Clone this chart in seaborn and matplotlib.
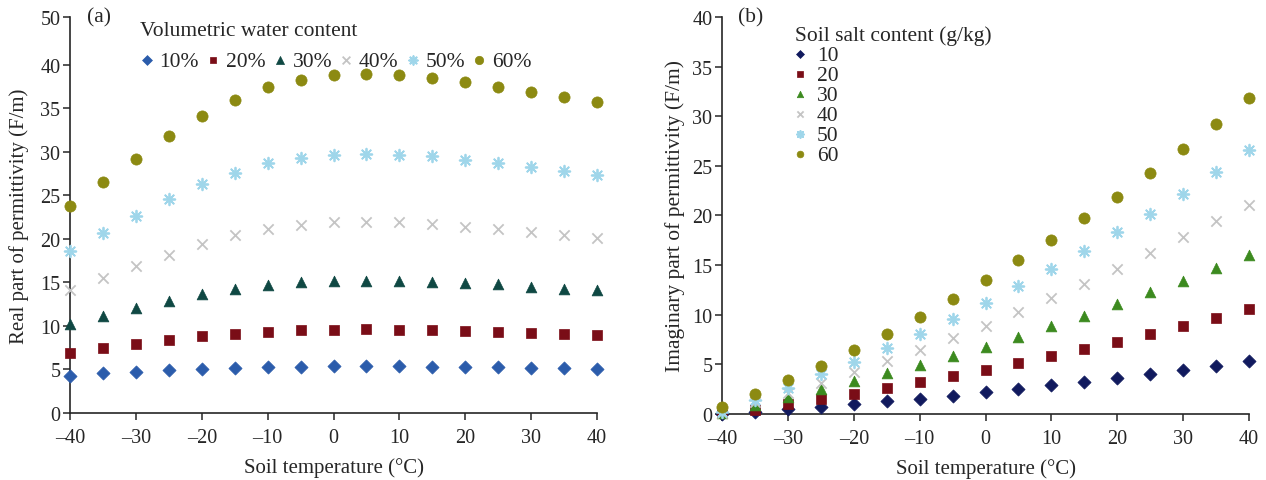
import numpy as np
import pandas as pd
import matplotlib
matplotlib.use("Agg")
import matplotlib.pyplot as plt
import seaborn as sns

# Dados (temperatura do solo em °C)
temperaturas = [-40, -35, -30, -25, -20, -15, -10, -5, 0, 5, 10, 15, 20, 25, 30, 35, 40]

# (a) parte real da permissividade, por umidade volumétrica
real_10 = [4.3, 4.55, 4.75, 4.9, 5.1, 5.2, 5.3, 5.3, 5.35, 5.35, 5.35, 5.3, 5.3, 5.25, 5.2, 5.15, 5.1]
real_20 = [6.9, 7.45, 7.9, 8.4, 8.8, 9.05, 9.3, 9.5, 9.55, 9.6, 9.55, 9.5, 9.4, 9.3, 9.2, 9.1, 9.0]
real_30 = [10.2, 11.1, 12.05, 12.9, 13.65, 14.3, 14.7, 15.0, 15.2, 15.2, 15.2, 15.0, 14.9, 14.8, 14.5, 14.3, 14.1]
real_40 = [14.1, 15.5, 16.9, 18.2, 19.4, 20.4, 21.1, 21.6, 21.9, 22.0, 21.9, 21.7, 21.4, 21.1, 20.8, 20.5, 20.1]
real_50 = [18.6, 20.65, 22.6, 24.6, 26.3, 27.6, 28.7, 29.3, 29.7, 29.8, 29.7, 29.5, 29.1, 28.7, 28.3, 27.8, 27.3]
real_60 = [23.8, 26.5, 29.2, 31.8, 34.1, 36.0, 37.4, 38.3, 38.8, 38.9, 38.8, 38.5, 38.0, 37.5, 36.9, 36.3, 35.7]
rotulos_umidade = ["10%", "20%", "30%", "40%", "50%", "60%"]

# (b) parte imaginária da permissividade, por teor de sal (g/kg)
imag_10 = [0.05, 0.2, 0.5, 0.7, 1.05, 1.3, 1.55, 1.85, 2.2, 2.5, 2.9, 3.2, 3.6, 4.0, 4.4, 4.85, 5.3]
imag_20 = [0.07, 0.45, 1.05, 1.55, 2.05, 2.65, 3.2, 3.8, 4.45, 5.1, 5.8, 6.55, 7.3, 8.05, 8.9, 9.7, 10.6]
imag_30 = [0.1, 0.9, 1.7, 2.5, 3.3, 4.1, 4.95, 5.85, 6.8, 7.8, 8.85, 9.9, 11.05, 12.25, 13.45, 14.75, 16.0]
imag_40 = [0.15, 1.2, 2.1, 3.15, 4.25, 5.3, 6.4, 7.65, 8.9, 10.25, 11.65, 13.1, 14.65, 16.2, 17.8, 19.4, 21.1]
imag_50 = [0.25, 1.45, 2.65, 4.0, 5.25, 6.7, 8.1, 9.6, 11.2, 12.9, 14.6, 16.4, 18.3, 20.2, 22.2, 24.4, 26.6]
imag_60 = [0.75, 2.0, 3.4, 4.85, 6.4, 8.05, 9.8, 11.6, 13.5, 15.5, 17.55, 19.7, 21.9, 24.3, 26.7, 29.2, 31.8]
rotulos_sal = ["10", "20", "30", "40", "50", "60"]

marcadores = ["D", "s", "^", "x", (8, 2, 0), "o"]
tamanhos = [45, 45, 60, 55, 70, 65]
cores_a = ["#2b5cab", "#7a0d17", "#0f4843", "#c4c4c4", "#9fd6ea", "#8c8a12"]
cores_b = ["#111a5e", "#7a0d17", "#3c8a1f", "#c4c4c4", "#9fd6ea", "#8c8a12"]

FONTE = 15.5

sns.set_style("ticks")
plt.rcParams["font.family"] = ["Liberation Serif", "DejaVu Serif"]
plt.rcParams["axes.linewidth"] = 1.2
plt.rcParams["xtick.major.width"] = 1.1
plt.rcParams["ytick.major.width"] = 1.1
plt.rcParams["xtick.major.size"] = 5
plt.rcParams["ytick.major.size"] = 5

fig = plt.figure(figsize=(12.66, 4.81), dpi=100)
ax_a = fig.add_axes([0.0553, 0.1393, 0.4163, 0.8233])
ax_b = fig.add_axes([0.5703, 0.1372, 0.4163, 0.8254])


def desenhar(ax, series, rotulos, cores):
    for valores, rot, m, c, s in zip(series, rotulos, marcadores, cores, tamanhos):
        df = pd.DataFrame({"T": temperaturas, "v": valores})
        if m == "x" or isinstance(m, tuple):
            sns.scatterplot(data=df, x="T", y="v", marker=m, color=c, s=s,
                            linewidth=1.3, label=rot, ax=ax, clip_on=False, zorder=3)
        else:
            sns.scatterplot(data=df, x="T", y="v", marker=m, color=c, s=s,
                            edgecolor=c, linewidth=0.5, label=rot, ax=ax,
                            clip_on=False, zorder=3)
    ax.set_xlim(-40, 40)
    ax.set_xticks(range(-40, 41, 10))
    ax.set_xticklabels([str(t).replace("-", "\u2013") for t in range(-40, 41, 10)])
    ax.set_xlabel("Soil temperature (\u00b0C)", fontsize=15, labelpad=7)
    ax.tick_params(labelsize=14.5, direction="out")
    ax.tick_params(axis="x", pad=6)
    ax.tick_params(axis="y", pad=2)
    ax.spines["top"].set_visible(False)
    ax.spines["right"].set_visible(False)
    ax.set_facecolor("white")


desenhar(ax_a, [real_10, real_20, real_30, real_40, real_50, real_60], rotulos_umidade, cores_a)
desenhar(ax_b, [imag_10, imag_20, imag_30, imag_40, imag_50, imag_60], rotulos_sal, cores_b)

# eixo (a): o último rótulo da figura original é "50", colocado logo acima do 40
ax_a.set_ylim(0, 45.5)
ax_a.set_yticks([0, 5, 10, 15, 20, 25, 30, 35, 40, 45.5])
ax_a.set_yticklabels(["0", "5", "10", "15", "20", "25", "30", "35", "40", "50"])
ax_a.set_ylabel("Real part of permittivity (F/m)", fontsize=15, labelpad=8)

ax_b.set_ylim(0, 40)
ax_b.set_yticks(range(0, 41, 5))
ax_b.set_ylabel("Imaginary part of permittivity (F/m)", fontsize=FONTE, labelpad=5)

ax_a.text(0.033, 1.0, "(a)", transform=ax_a.transAxes, fontsize=FONTE, va="center", ha="left")
ax_b.text(0.03, 1.0, "(b)", transform=ax_b.transAxes, fontsize=FONTE, va="center", ha="left")

leg_a = ax_a.legend(title="Volumetric water content", ncol=6, frameon=False,
                    loc="upper left", bbox_to_anchor=(0.133, 0.99), fontsize=FONTE,
                    title_fontsize=FONTE, handletextpad=0.3, columnspacing=0.35,
                    handlelength=0.6, alignment="left", borderaxespad=0,
                    borderpad=0, markerscale=0.75)
leg_b = ax_b.legend(title="Soil salt content (g/kg)", ncol=1, frameon=False,
                    loc="upper left", bbox_to_anchor=(0.139, 0.98), fontsize=FONTE,
                    title_fontsize=FONTE, handletextpad=0.6, labelspacing=0.0,
                    handlelength=0.4, alignment="left", borderaxespad=0,
                    borderpad=0, markerscale=0.6)

plt.savefig("out.png", dpi=100, facecolor="white")
